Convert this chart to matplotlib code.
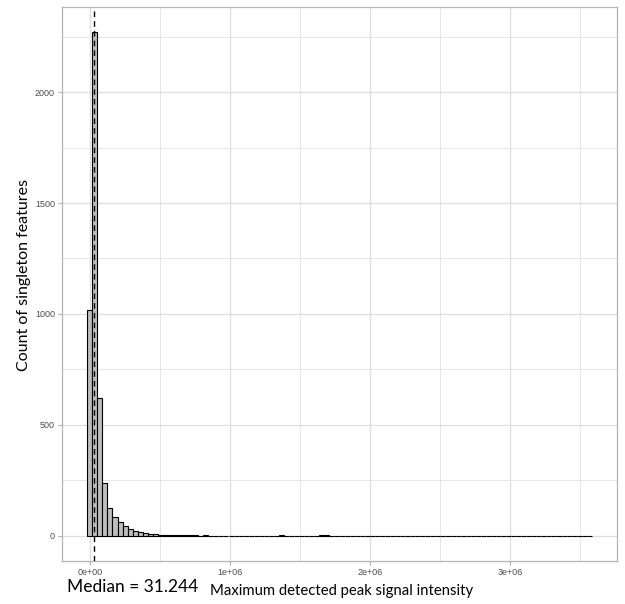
import matplotlib
matplotlib.use("Agg")
import matplotlib.pyplot as plt
import numpy as np
from matplotlib.ticker import MultipleLocator, FuncFormatter

# ---- data ----
bin_start = -18000.0
bin_width = 36000.0
counts = [1020, 2270, 620, 237, 125, 84, 62, 46, 32, 23, 17, 12, 8,
          6, 5, 4, 3, 3, 2, 3, 4, 2, 1, 2, 1, 1, 0, 1, 1, 0,
          1, 0, 1, 0, 0, 1, 0, 1, 3, 1, 0, 0, 1, 0, 0, 1, 2, 2,
          1, 0, 0, 1, 0, 0, 0, 0, 1, 0, 0, 0, 0, 0, 0, 0, 0,
          0, 0, 0, 0, 0, 0, 0, 0, 0, 0, 0, 0, 0, 0, 0, 0, 0,
          0, 0, 0, 0, 0, 0, 0, 0, 0, 0, 0, 0, 0, 0, 0, 0, 0, 1]
median_value = 31244
median_label = "Median = 31.244"
x_label = "Maximum detected peak signal intensity"
y_label = "Count of singleton features"

edges = bin_start + bin_width * np.arange(len(counts))

fig = plt.figure(figsize=(6.25, 6.04), dpi=100)
ax = fig.add_axes([62/625, 1-561/604, (617-62)/625, (561-7)/604])

ax.bar(edges, counts, width=bin_width, align='edge', color='#BDBDBD',
       edgecolor='black', linewidth=0.8, zorder=3)
ax.axvline(median_value, color='black', linestyle=(0, (4, 3)), linewidth=1.0, zorder=4)

lo, hi = edges[0], edges[-1] + bin_width
pad = 0.05 * (hi - lo)
ax.set_xlim(lo - pad, hi + pad)
ymax = max(counts)
ax.set_ylim(-0.05 * ymax, 1.05 * ymax)

ax.xaxis.set_major_locator(MultipleLocator(1e6))
ax.xaxis.set_minor_locator(MultipleLocator(5e5))
ax.yaxis.set_major_locator(MultipleLocator(500))
ax.yaxis.set_minor_locator(MultipleLocator(250))

def sci(v, pos):
    if v == 0:
        return "0e+00"
    e = int(np.floor(np.log10(abs(v))))
    m = v / 10**e
    return f"{m:g}e+{e:02d}"
ax.xaxis.set_major_formatter(FuncFormatter(sci))

ax.grid(which='major', color='#DEDEDE', linewidth=0.9, zorder=0)
ax.grid(which='minor', color='#E6E6E6', linewidth=0.7, zorder=0)
ax.set_axisbelow(True)
for s in ax.spines.values():
    s.set_color('#B3B3B3')
    s.set_linewidth(0.9)
ax.tick_params(which='major', length=3, color='#B3B3B3', labelsize=6.5,
               labelcolor='#4D4D4D', pad=2)
ax.tick_params(which='minor', length=0)
for lab in ax.get_xticklabels() + ax.get_yticklabels():
    lab.set_family('Liberation Sans')

fig.text(24/625, 1-275/604, y_label, rotation=90, ha='center', va='center',
         fontsize=11.5, family='Lato')
fig.text(210/625, 1-591/604, x_label, ha='left', va='center',
         fontsize=10.7, family='Lato')
fig.text(67/625, 1-587/604, median_label, ha='left', va='center',
         fontsize=12.5, family='Lato')

fig.savefig("out.png", dpi=100)
